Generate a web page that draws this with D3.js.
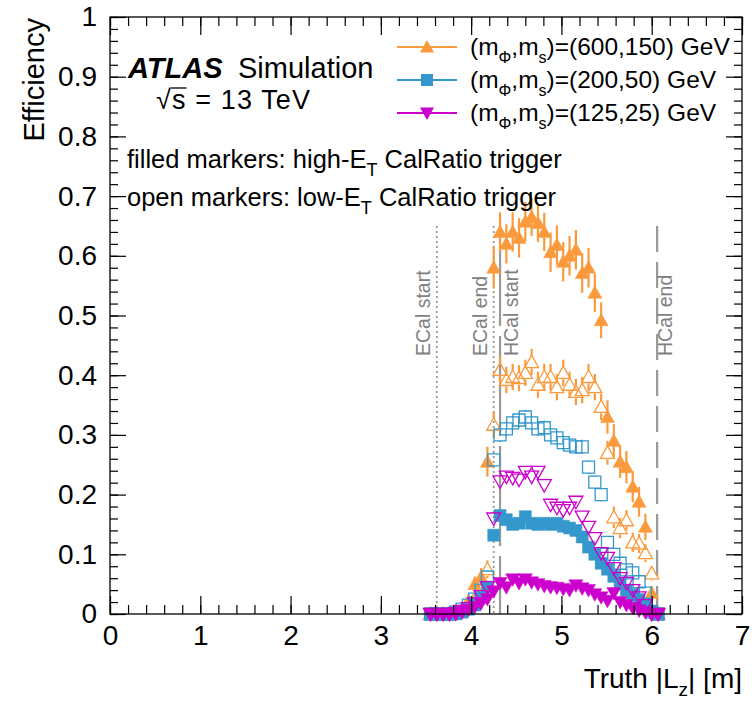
<!DOCTYPE html>
<html>
<head>
<meta charset="utf-8">
<script src="https://cdn.jsdelivr.net/npm/d3@7"></script>
<style>
  html, body { margin: 0; padding: 0; background: #fff; }
  svg { display: block; font-family: "Liberation Sans", Arial, Helvetica, sans-serif; }
</style>
</head>
<body>
<svg id="chart" width="752" height="702"></svg>
<script>
// Truth |Lz| bin centres [m]
const binCenters = [3.55, 3.62, 3.69, 3.76, 3.83, 3.90, 3.97, 4.04, 4.11, 4.18,
  4.25, 4.32, 4.39, 4.46, 4.53, 4.60, 4.67, 4.74, 4.81, 4.88,
  4.95, 5.02, 5.09, 5.16, 5.23, 5.30, 5.37, 5.44, 5.51, 5.58,
  5.65, 5.72, 5.79, 5.86, 5.93, 6.00, 6.07];

// (600,150) GeV, high-ET CalRatio trigger
const effHigh600 = [0, 0, 0, 0, 0.003, 0.008, 0.022, 0.05, 0.062, 0.255,
  0.58, 0.64, 0.62, 0.64, 0.63, 0.657, 0.665, 0.655, 0.64, 0.606,
  0.618, 0.59, 0.60, 0.61, 0.571, 0.58, 0.538, 0.492, 0.33, 0.29,
  0.255, 0.246, 0.213, 0.188, 0.146, 0.035, 0];
const errHigh600 = [0, 0, 0, 0, 0.004, 0.006, 0.01, 0.013, 0.015, 0.025,
  0.035, 0.033, 0.033, 0.033, 0.033, 0.033, 0.032, 0.032, 0.032, 0.033,
  0.033, 0.033, 0.033, 0.033, 0.033, 0.033, 0.032, 0.03, 0.028, 0.028,
  0.027, 0.027, 0.026, 0.025, 0.022, 0.012, 0];
// (600,150) GeV, low-ET CalRatio trigger
const effLow600 = [0, 0, 0, 0, 0.003, 0.008, 0.015, 0.025, 0.04, 0.075,
  0.317, 0.409, 0.392, 0.397, 0.395, 0.404, 0.422, 0.384, 0.397, 0.397,
  0.38, 0.404, 0.384, 0.372, 0.375, 0.397, 0.38, 0.347, 0.27, 0.162,
  0.144, 0.157, 0.12, 0.118, 0.102, 0.068, 0];
const errLow600 = [0, 0, 0, 0, 0.003, 0.005, 0.007, 0.009, 0.011, 0.015,
  0.022, 0.022, 0.022, 0.022, 0.022, 0.022, 0.022, 0.022, 0.022, 0.022,
  0.022, 0.022, 0.022, 0.022, 0.022, 0.022, 0.022, 0.022, 0.02, 0.018,
  0.017, 0.017, 0.016, 0.016, 0.015, 0.012, 0];

// (200,50) GeV, high-ET CalRatio trigger
const effHigh200 = [0, 0, 0, 0, 0, 0.003, 0.008, 0.015, 0.028, 0.045,
  0.132, 0.165, 0.158, 0.15, 0.152, 0.163, 0.152, 0.15, 0.152, 0.15,
  0.152, 0.147, 0.144, 0.14, 0.129, 0.112, 0.1, 0.085, 0.075, 0.063,
  0.05, 0.04, 0.032, 0.024, 0.017, 0.005, 0];
const errHigh200 = [0, 0, 0, 0, 0, 0.002, 0.003, 0.004, 0.005, 0.006,
  0.008, 0.008, 0.008, 0.008, 0.008, 0.008, 0.008, 0.008, 0.008, 0.008,
  0.008, 0.008, 0.008, 0.008, 0.008, 0.008, 0.007, 0.007, 0.006, 0.006,
  0.005, 0.005, 0.004, 0.004, 0.003, 0.002, 0];
// (200,50) GeV, low-ET CalRatio trigger
const effLow200 = [0, 0, 0, 0, 0.003, 0.008, 0.015, 0.025, 0.04, 0.062,
  0.258, 0.3, 0.31, 0.32, 0.325, 0.33, 0.32, 0.31, 0.312, 0.3,
  0.295, 0.287, 0.283, 0.28, 0.28, 0.246, 0.221, 0.2, 0.12, 0.1,
  0.085, 0.074, 0.069, 0.054, 0.035, 0.003, 0];
const errLow200 = [0, 0, 0, 0, 0.002, 0.003, 0.004, 0.005, 0.006, 0.008,
  0.012, 0.012, 0.012, 0.012, 0.012, 0.012, 0.012, 0.012, 0.012, 0.012,
  0.012, 0.012, 0.012, 0.012, 0.012, 0.011, 0.011, 0.011, 0.009, 0.009,
  0.008, 0.008, 0.008, 0.007, 0.006, 0.002, 0];

// (125,25) GeV, high-ET CalRatio trigger
const effHigh125 = [0, 0, 0, 0, 0, 0.003, 0.007, 0.012, 0.018, 0.025,
  0.038, 0.052, 0.045, 0.058, 0.052, 0.058, 0.053, 0.05, 0.047, 0.045,
  0.044, 0.042, 0.04, 0.048, 0.043, 0.04, 0.033, 0.028, 0.022, 0.035,
  0.02, 0.015, 0.01, 0.006, 0.003, 0, 0];
const errHigh125 = [0, 0, 0, 0, 0, 0.002, 0.003, 0.003, 0.004, 0.004,
  0.005, 0.006, 0.006, 0.006, 0.006, 0.006, 0.006, 0.006, 0.006, 0.006,
  0.006, 0.006, 0.006, 0.006, 0.006, 0.006, 0.005, 0.005, 0.005, 0.005,
  0.004, 0.004, 0.003, 0.003, 0.002, 0, 0];
// (125,25) GeV, low-ET CalRatio trigger
const effLow125 = [0, 0, 0, 0, 0.002, 0.005, 0.01, 0.018, 0.03, 0.045,
  0.16, 0.222, 0.23, 0.228, 0.225, 0.238, 0.23, 0.238, 0.216, 0.183,
  0.178, 0.174, 0.178, 0.188, 0.163, 0.146, 0.127, 0.102, 0.094, 0.077,
  0.06, 0.052, 0.04, 0.028, 0.015, 0, 0];
const errLow125 = [0, 0, 0, 0, 0.002, 0.003, 0.004, 0.005, 0.006, 0.007,
  0.01, 0.01, 0.01, 0.01, 0.01, 0.01, 0.01, 0.01, 0.01, 0.01,
  0.01, 0.01, 0.01, 0.01, 0.01, 0.01, 0.009, 0.009, 0.009, 0.008,
  0.008, 0.007, 0.007, 0.006, 0.005, 0, 0];

// Detector boundaries [m]
const boundaryNames = ["ECal start", "ECal end", "HCal start", "HCal end"];
const boundaryPos = [3.62, 4.25, 4.32, 6.06];

// Axis tick labels
const xTickValues = [0, 1, 2, 3, 4, 5, 6, 7];
const xTickLabels = ["0", "1", "2", "3", "4", "5", "6", "7"];
const yTickValues = [0, 0.1, 0.2, 0.3, 0.4, 0.5, 0.6, 0.7, 0.8, 0.9, 1];
const yTickLabels = ["0", "0.1", "0.2", "0.3", "0.4", "0.5", "0.6", "0.7", "0.8", "0.9", "1"];

// Signal samples (legend order)
const sampleMasses = ["(600,150)", "(200,50)", "(125,25)"];

const ORANGE = "#fb9a3c", BLUE = "#3598cd", MAGENTA = "#cc00cc";
const FONT = '"Liberation Sans", Arial, Helvetica, sans-serif';

const svg = d3.select("#chart");
const L = 110, R = 742, T = 17, B = 614;
const x = d3.scaleLinear().domain([0, 7]).range([L, R]);
const y = d3.scaleLinear().domain([0, 1]).range([B, T]);

// ---- marker shapes ----
function markerPath(shape) {
  if (shape === "up") return "M0,-7L7,5.5L-7,5.5Z";
  if (shape === "down") return "M0,7L7,-5.5L-7,-5.5Z";
  return "M-6,-6H6V6H-6Z";
}
const markerHalf = { up: 6.5, down: 6.5, square: 6 };

const series = [
  { vals: effLow600,  errs: errLow600,  color: ORANGE,  shape: "up",     filled: false, ew: 2.2 },
  { vals: effHigh600, errs: errHigh600, color: ORANGE,  shape: "up",     filled: true,  ew: 2.2 },
  { vals: effLow200,  errs: errLow200,  color: BLUE,    shape: "square", filled: false, ew: 1.6 },
  { vals: effHigh200, errs: errHigh200, color: BLUE,    shape: "square", filled: true,  ew: 1.6 },
  { vals: effLow125,  errs: errLow125,  color: MAGENTA, shape: "down",   filled: false, ew: 1.6 },
  { vals: effHigh125, errs: errHigh125, color: MAGENTA, shape: "down",   filled: true,  ew: 1.6 }
];

// ---- detector boundary lines ----
const lineStyles = ["2,3", "2,3", "100,10", "26,10"];
const gBound = svg.append("g");
boundaryPos.forEach((p, k) => {
  gBound.append("line")
    .attr("x1", x(p)).attr("x2", x(p))
    .attr("y1", y(0.65)).attr("y2", y(0))
    .attr("stroke", "#999")
    .attr("stroke-width", k < 2 ? 1.8 : 2.2)
    .attr("stroke-dasharray", lineStyles[k]);
});
// rotated labels: left of the ECal lines, right of the HCal lines
const labelOffset = [-7, -7, 18, 15];
boundaryNames.forEach((name, k) => {
  const lx = x(boundaryPos[k]) + labelOffset[k];
  gBound.append("text")
    .attr("transform", `translate(${lx},${356}) rotate(-90)`)
    .attr("font-size", 19.5)
    .attr("fill", "#808080")
    .text(name);
});

// ---- data ----
const gData = svg.append("g");
series.forEach(s => {
  const g = gData.append("g");
  const h = markerHalf[s.shape];
  binCenters.forEach((xc, i) => {
    const v = s.vals[i], e = s.errs[i];
    const px = x(xc), py = y(v);
    if (e > 0) {
      const top = y(v + e), bot = y(Math.max(v - e, 0));
      if (s.filled) {
        g.append("line").attr("x1", px).attr("x2", px).attr("y1", top).attr("y2", bot)
          .attr("stroke", s.color).attr("stroke-width", s.ew);
      } else {
        if (py - h > top) g.append("line").attr("x1", px).attr("x2", px).attr("y1", top).attr("y2", py - h)
          .attr("stroke", s.color).attr("stroke-width", s.ew);
        if (bot > py + h) g.append("line").attr("x1", px).attr("x2", px).attr("y1", py + h).attr("y2", bot)
          .attr("stroke", s.color).attr("stroke-width", s.ew);
      }
    }
  });
  g.selectAll("path.m").data(binCenters.map((xc, i) => [xc, s.vals[i]]))
    .enter().append("path")
    .attr("class", "m")
    .attr("d", markerPath(s.shape))
    .attr("transform", d => `translate(${x(d[0])},${y(d[1])})`)
    .attr("fill", s.filled ? s.color : "none")
    .attr("stroke", s.color)
    .attr("stroke-width", s.filled ? 0.5 : 1.3);
});

// ---- axes (ticks inside, mirrored) ----
const xMinor = d3.range(0, 7.001, 0.2).map(d => +d.toFixed(2));
const yMinor = d3.range(0, 1.0001, 0.02).map(d => +d.toFixed(3));
function styleAxis(g) {
  g.select(".domain").remove();
  g.selectAll(".tick line").attr("stroke", "#000").attr("stroke-width", 1.2);
  g.selectAll(".tick text").attr("font-family", FONT).attr("font-size", 28).attr("fill", "#000");
}
const xLab = d => xTickLabels[xTickValues.indexOf(d)];
const yLab = d => yTickLabels[yTickValues.findIndex(v => Math.abs(v - d) < 1e-9)];

svg.append("g").attr("transform", `translate(0,${B})`)
  .call(d3.axisBottom(x).tickValues(xMinor).tickSize(-9).tickFormat(""))
  .call(styleAxis);
svg.append("g").attr("transform", `translate(0,${B})`)
  .call(d3.axisBottom(x).tickValues(xTickValues).tickSize(-18).tickPadding(11).tickFormat(xLab))
  .call(styleAxis);
svg.append("g").attr("transform", `translate(0,${T})`)
  .call(d3.axisTop(x).tickValues(xMinor).tickSize(-9).tickFormat(""))
  .call(styleAxis);
svg.append("g").attr("transform", `translate(0,${T})`)
  .call(d3.axisTop(x).tickValues(xTickValues).tickSize(-18).tickFormat(""))
  .call(styleAxis);
svg.append("g").attr("transform", `translate(${L},0)`)
  .call(d3.axisLeft(y).tickValues(yMinor).tickSize(-8).tickFormat(""))
  .call(styleAxis);
svg.append("g").attr("transform", `translate(${L},0)`)
  .call(d3.axisLeft(y).tickValues(yTickValues).tickSize(-16).tickPadding(13).tickFormat(yLab))
  .call(styleAxis);
svg.append("g").attr("transform", `translate(${R},0)`)
  .call(d3.axisRight(y).tickValues(yMinor).tickSize(-8).tickFormat(""))
  .call(styleAxis);
svg.append("g").attr("transform", `translate(${R},0)`)
  .call(d3.axisRight(y).tickValues(yTickValues).tickSize(-16).tickFormat(""))
  .call(styleAxis);

// frame
svg.append("rect").attr("x", L).attr("y", T).attr("width", R - L).attr("height", B - T)
  .attr("fill", "none").attr("stroke", "#000").attr("stroke-width", 1.3);

// axis titles
svg.append("text")
  .attr("transform", `translate(44,${T + 1}) rotate(-90)`)
  .attr("text-anchor", "end").attr("font-size", 29).text("Efficiency");
const xt = svg.append("text").attr("x", R).attr("y", 688).attr("text-anchor", "end").attr("font-size", 28);
xt.append("tspan").text("Truth |L");
xt.append("tspan").attr("font-size", 19).attr("dy", 8).text("z");
xt.append("tspan").attr("dy", -8).text("| [m]");

// ---- ATLAS label ----
svg.append("text").attr("x", 128).attr("y", 78).attr("font-size", 29)
  .attr("font-weight", "bold").attr("font-style", "italic").text("ATLAS");
svg.append("text").attr("x", 238).attr("y", 78).attr("font-size", 29).text("Simulation");

const rt = svg.append("text").attr("x", 156).attr("y", 109).attr("font-size", 27)
  .attr("textLength", 154).attr("lengthAdjust", "spacing");
rt.text("\u221As = 13 TeV");
{
  const node = rt.node();
  const x0 = node.getStartPositionOfChar(1).x;
  const x1 = node.getEndPositionOfChar(1).x;
  svg.append("line").attr("x1", x0 - 1).attr("x2", x1 + 1).attr("y1", 88).attr("y2", 88)
    .attr("stroke", "#000").attr("stroke-width", 1.3);
}

function subText(yb, pre, post) {
  const t = svg.append("text").attr("x", 127).attr("y", yb).attr("font-size", 25.5);
  t.append("tspan").text(pre);
  t.append("tspan").attr("font-size", 18).attr("dy", 8).text("T");
  t.append("tspan").attr("font-size", 25.5).attr("dy", -8).text(post);
}
subText(168, "filled markers: high-E", " CalRatio trigger");
subText(206, "open markers: low-E", " CalRatio trigger");

// ---- legend ----
const legendColors = [ORANGE, BLUE, MAGENTA];
const legendShapes = ["up", "square", "down"];
sampleMasses.forEach((m, k) => {
  const ly = 47 + k * 33;
  const g = svg.append("g");
  g.append("line").attr("x1", 397).attr("x2", 457).attr("y1", ly).attr("y2", ly)
    .attr("stroke", legendColors[k]).attr("stroke-width", 2);
  g.append("path").attr("d", markerPath(legendShapes[k]))
    .attr("transform", `translate(427,${ly})`).attr("fill", legendColors[k]);
  const t = g.append("text").attr("x", 470).attr("y", ly + 8).attr("font-size", 24.5);
  t.append("tspan").text("(m");
  t.append("tspan").attr("font-size", 16).attr("dy", 8).text("\u03A6");
  t.append("tspan").attr("dy", -8).text(",m");
  t.append("tspan").attr("font-size", 16).attr("dy", 8).text("s");
  t.append("tspan").attr("dy", -8).text(")=" + m + " GeV");
});
</script>
</body>
</html>
